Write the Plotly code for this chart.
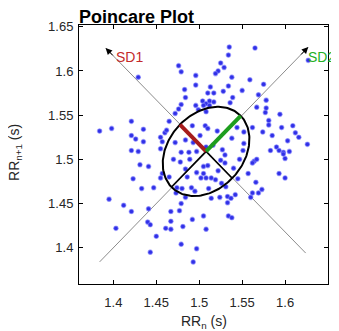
import numpy as np
import plotly.graph_objects as go

# ---- data ----
rr_n = [1.429, 1.421, 1.384, 1.398, 1.421, 1.426, 1.435, 1.435, 1.421, 1.429, 1.455, 1.457, 1.455, 1.460,
        1.535, 1.534, 1.476, 1.479, 1.525, 1.529, 1.522, 1.519, 1.496, 1.538, 1.496, 1.513, 1.534, 1.483,
        1.528, 1.510, 1.517, 1.550, 1.484, 1.539, 1.504, 1.508, 1.512, 1.517, 1.505, 1.512, 1.536, 1.496,
        1.479, 1.476, 1.472, 1.499, 1.508, 1.465, 1.492, 1.507, 1.510, 1.521, 1.544, 1.538, 1.501, 1.484,
        1.472, 1.462, 1.552, 1.552, 1.508, 1.488, 1.497, 1.479, 1.551,
        1.565, 1.627, 1.559, 1.575, 1.569, 1.578, 1.567, 1.578, 1.577, 1.594, 1.581, 1.581, 1.562, 1.596,
        1.609, 1.574, 1.585, 1.612, 1.616, 1.603, 1.626, 1.583, 1.590, 1.593, 1.598, 1.605,
        1.431, 1.441, 1.457, 1.455, 1.423, 1.433, 1.447, 1.395, 1.412, 1.421, 1.441, 1.440, 1.443, 1.403,
        1.450, 1.443,
        1.478, 1.525, 1.530, 1.547, 1.505, 1.510, 1.484, 1.465, 1.497, 1.505, 1.522, 1.486, 1.502, 1.508,
        1.514, 1.519, 1.526, 1.531, 1.511, 1.474, 1.480, 1.491, 1.495, 1.473, 1.484, 1.514, 1.524, 1.533,
        1.542, 1.537, 1.533, 1.479, 1.477, 1.467, 1.505, 1.534, 1.538, 1.492, 1.467, 1.461, 1.467, 1.481,
        1.508, 1.479, 1.497, 1.493,
        1.564, 1.567, 1.562, 1.598, 1.600, 1.557, 1.593, 1.600, 1.566, 1.562, 1.569, 1.573, 1.560,
        1.493, 1.516, 1.527, 1.489, 1.540, 1.470, 1.530, 1.545]
rr_n1 = [1.593, 1.543, 1.532, 1.535, 1.527, 1.523, 1.534, 1.520, 1.510, 1.509, 1.525, 1.520, 1.512, 1.530,
         1.627, 1.618, 1.606, 1.599, 1.609, 1.604, 1.600, 1.597, 1.595, 1.593, 1.584, 1.582, 1.583, 1.579,
         1.577, 1.575, 1.575, 1.578, 1.570, 1.570, 1.566, 1.563, 1.566, 1.565, 1.561, 1.561, 1.564, 1.561,
         1.562, 1.557, 1.552, 1.556, 1.554, 1.543, 1.538, 1.538, 1.535, 1.532, 1.536, 1.524, 1.527, 1.522,
         1.519, 1.533, 1.531, 1.518, 1.514, 1.508, 1.509, 1.508, 1.510,
         1.626, 1.612, 1.590, 1.585, 1.573, 1.567, 1.559, 1.558, 1.553, 1.551, 1.544, 1.539, 1.536, 1.536,
         1.538, 1.531, 1.527, 1.530, 1.525, 1.521, 1.517, 1.510, 1.514, 1.510, 1.508, 1.509,
         1.494, 1.492, 1.484, 1.479, 1.478, 1.467, 1.468, 1.455, 1.448, 1.441, 1.444, 1.429, 1.426, 1.422,
         1.413, 1.395,
         1.497, 1.499, 1.496, 1.500, 1.492, 1.493, 1.489, 1.480, 1.485, 1.484, 1.487, 1.480, 1.479, 1.479,
         1.479, 1.477, 1.473, 1.469, 1.467, 1.468, 1.467, 1.468, 1.464, 1.462, 1.457, 1.456, 1.457, 1.458,
         1.460, 1.456, 1.451, 1.450, 1.442, 1.441, 1.436, 1.436, 1.434, 1.432, 1.430, 1.422, 1.421, 1.424,
         1.421, 1.404, 1.399, 1.384,
         1.498, 1.500, 1.496, 1.506, 1.501, 1.484, 1.484, 1.479, 1.474, 1.462, 1.462, 1.466, 1.457,
         1.519, 1.516, 1.511, 1.500, 1.490, 1.500, 1.505, 1.478]

center_x = 1.508
center_y = 1.509
sd1 = 0.043
sd2 = 0.057
identity_ends = [1.384, 1.627]
perp_x = [1.391, 1.624]
perp_y = [1.626, 1.394]
tick_vals = [1.4, 1.45, 1.5, 1.55, 1.6, 1.65]
tick_text = ["1.4", "1.45", "1.5", "1.55", "1.6", "1.65"]

FONT = "Liberation Sans, Arial, Helvetica, sans-serif"

u = np.array([1.0, 1.0]) / np.sqrt(2)
v = np.array([-1.0, 1.0]) / np.sqrt(2)
c = np.array([center_x, center_y])
t = np.linspace(0, 2 * np.pi, 200)
ell = c[:, None] + sd2 * np.cos(t)[None, :] * u[:, None] + sd1 * np.sin(t)[None, :] * v[:, None]

fig = go.Figure()
# gray guide lines
fig.add_trace(go.Scatter(x=identity_ends, y=identity_ends, mode="lines",
                         line=dict(color="#8c8c8c", width=1), hoverinfo="skip"))
fig.add_trace(go.Scatter(x=perp_x, y=perp_y, mode="lines",
                         line=dict(color="#8c8c8c", width=1), hoverinfo="skip"))
# points
fig.add_trace(go.Scatter(x=rr_n, y=rr_n1, mode="markers",
                         marker=dict(size=4.5, color="#3030e6",
                                     line=dict(width=1.2, color="rgba(130,130,255,0.55)"))))
# ellipse
fig.add_trace(go.Scatter(x=ell[0], y=ell[1], mode="lines",
                         line=dict(color="black", width=2)))
# black half-axes
p_sd2neg = c - sd2 * u
p_sd1neg = c - sd1 * v
fig.add_trace(go.Scatter(x=[p_sd2neg[0], center_x], y=[p_sd2neg[1], center_y], mode="lines",
                         line=dict(color="black", width=1.6)))
fig.add_trace(go.Scatter(x=[center_x, p_sd1neg[0]], y=[center_y, p_sd1neg[1]], mode="lines",
                         line=dict(color="black", width=1.6)))
# SD1 (red) and SD2 (green)
p1 = c + sd1 * v
p2 = c + sd2 * u
fig.add_trace(go.Scatter(x=[center_x, p1[0]], y=[center_y, p1[1]], mode="lines",
                         line=dict(color="#a61c1c", width=4)))
fig.add_trace(go.Scatter(x=[center_x, p2[0]], y=[center_y, p2[1]], mode="lines",
                         line=dict(color="#1e9e1e", width=4)))

annotations = [
    dict(x=identity_ends[1], y=identity_ends[1], ax=identity_ends[1] - 0.01, ay=identity_ends[1] - 0.01,
         xref="x", yref="y", axref="x", ayref="y", showarrow=True, arrowhead=2,
         arrowsize=1.3, arrowwidth=1, arrowcolor="black", text=""),
    dict(x=perp_x[0], y=perp_y[0], ax=perp_x[0] + 0.01, ay=perp_y[0] - 0.01,
         xref="x", yref="y", axref="x", ayref="y", showarrow=True, arrowhead=2,
         arrowsize=1.3, arrowwidth=1, arrowcolor="black", text=""),
    dict(x=1.419, y=1.616, xref="x", yref="y", text="SD1", showarrow=False,
         font=dict(family=FONT, size=14, color="#c42a2a"), xanchor="center", yanchor="middle"),
    dict(x=1.6245, y=1.616, xref="x", yref="y", text="SD2", showarrow=False,
         font=dict(family=FONT, size=14, color="#24b024"), xanchor="left", yanchor="middle"),
    dict(x=-0.257, y=0.506, xref="paper", yref="paper", text="RR<sub>n+1</sub> (s)",
         textangle=-90, showarrow=False, font=dict(family=FONT, size=14, color="#262626"),
         xanchor="center", yanchor="middle"),
    dict(x=0.50, y=-0.145, xref="paper", yref="paper", text="RR<sub>n</sub> (s)",
         showarrow=False, font=dict(family=FONT, size=14, color="#262626"),
         xanchor="center", yanchor="middle"),
]

axis_common = dict(showline=True, linecolor="black", linewidth=1, mirror="ticks",
                   ticks="inside", ticklen=4, tickcolor="black", showgrid=False, zeroline=False,
                   tickfont=dict(family=FONT, size=13, color="#262626"),
                   tickvals=tick_vals, ticktext=tick_text)

# the page adds an 8px body margin, so the figure is sized to the remaining window
W, H = 331, 323
fig.update_layout(
    width=W, height=H,
    margin=dict(l=71, r=11, t=17, b=47),
    paper_bgcolor="white", plot_bgcolor="white",
    showlegend=False,
    title=dict(text="<b>Poincare Plot</b>", x=71 / W, xanchor="left", xref="container",
               y=1 - 9 / H, yanchor="middle", yref="container",
               font=dict(family=FONT, size=18, color="black")),
    xaxis=dict(range=[1.36, 1.65], ticklabelstandoff=6, **axis_common),
    yaxis=dict(range=[1.359, 1.652], ticklabelstandoff=2, **axis_common),
    annotations=annotations,
)

fig.write_html("out.html")
